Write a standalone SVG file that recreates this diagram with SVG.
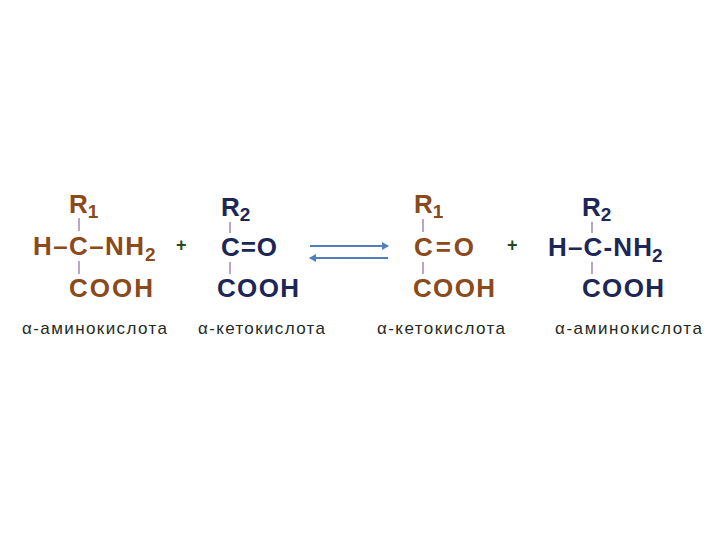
<svg xmlns="http://www.w3.org/2000/svg" width="720" height="540" viewBox="0 0 720 540">
<style>
.f{font-family:"Liberation Sans",Arial,sans-serif;font-size:26px;font-weight:bold}
.s{font-size:19px}
.br{fill:#8a4a1c}.nv{fill:#1c2657}
.lb{font-family:"Liberation Sans",Arial,sans-serif;font-size:17px;fill:#1f2a22}
.pl{font-family:"Liberation Sans",Arial,sans-serif;font-size:18px;font-weight:bold;fill:#1f4a22}
.bd{stroke:#8a6aa0;stroke-width:1.2}
.ar{stroke:#4f7fbf;stroke-width:2.2;fill:none}
</style>
<defs>
<marker id="ah" markerWidth="8" markerHeight="8" refX="6" refY="4" orient="auto" markerUnits="userSpaceOnUse"><path d="M0,0 L7,4 L0,8 Z" fill="#4f7fbf"/></marker>
</defs>
<rect width="720" height="540" fill="#fff"/>
<g id="m1" class="f br">
<text x="69" y="213">R<tspan class="s" dy="5">1</tspan></text>
<text x="33" y="255" textLength="111">H–C–NH</text><text x="145" y="261" class="s">2</text>
<text x="69" y="297" textLength="84">COOH</text>
<line class="bd" x1="79" y1="218" x2="79" y2="231"/><line class="bd" x1="79" y1="261" x2="79" y2="274"/>
</g>
<text id="p1" class="pl" x="176" y="251">+</text>
<g id="m2" class="f nv">
<text x="221" y="216">R<tspan class="s" dy="5">2</tspan></text>
<text x="221" y="256" textLength="56">C=O</text>
<text x="217" y="297" textLength="82">COOH</text>
<line class="bd" x1="230" y1="222" x2="230" y2="233"/><line class="bd" x1="230" y1="262" x2="230" y2="274"/>
</g>
<g id="connectors">
<line class="ar" x1="310" y1="246" x2="388" y2="246" marker-end="url(#ah)"/>
<line class="ar" x1="388" y1="258" x2="310" y2="258" marker-end="url(#ah)"/>
</g>
<g id="m3" class="f br">
<text x="414" y="213">R<tspan class="s" dy="5">1</tspan></text>
<text x="414" y="256" textLength="60">C=O</text>
<text x="413" y="297" textLength="82">COOH</text>
<line class="bd" x1="423" y1="219" x2="423" y2="232"/><line class="bd" x1="423" y1="262" x2="423" y2="274"/>
</g>
<text id="p2" class="pl" x="507" y="251">+</text>
<g id="m4" class="f nv">
<text x="582" y="216">R<tspan class="s" dy="5">2</tspan></text>
<text x="548" y="256" textLength="104">H–C-NH</text><text x="652" y="262" class="s">2</text>
<text x="582" y="297" textLength="82">COOH</text>
<line class="bd" x1="592" y1="222" x2="592" y2="233"/><line class="bd" x1="592" y1="262" x2="592" y2="274"/>
</g>
<g id="labels" class="lb">
<text x="22" y="334" textLength="145">α-аминокислота</text>
<text x="198" y="334" textLength="127">α-кетокислота</text>
<text x="377" y="334" textLength="128">α-кетокислота</text>
<text x="555" y="334" textLength="147">α-аминокислота</text>
</g>
</svg>
